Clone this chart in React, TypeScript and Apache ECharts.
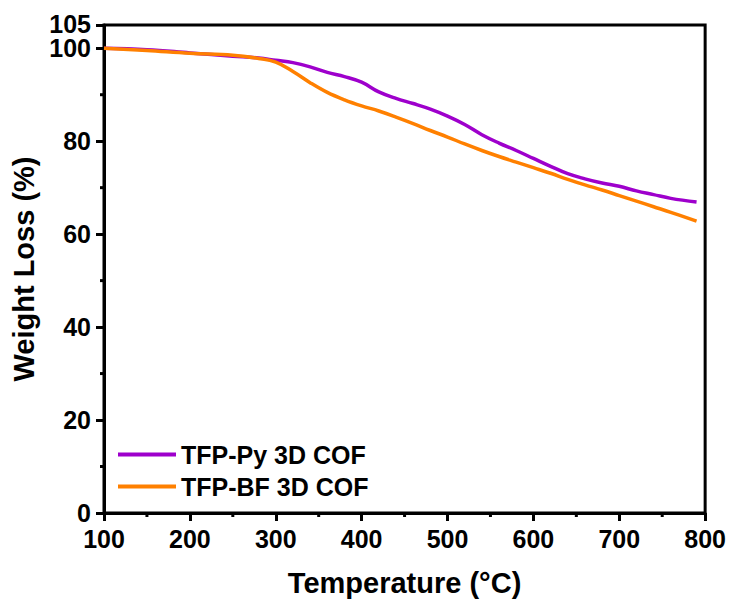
import React, { useEffect, useRef } from "react";
import * as echarts from "echarts";

// Temperature (°C) sample points for each TGA trace
const pyTemps = [100, 150, 200, 250, 280, 300, 320, 340, 360, 380, 400, 420, 440, 460, 480, 500, 520, 540, 560, 580, 600, 620, 640, 660, 680, 700, 720, 740, 760, 790];
const pyWeight = [100, 99.7, 99.0, 98.3, 97.9, 97.4, 96.9, 96.0, 94.8, 93.9, 92.7, 90.6, 89.2, 88.1, 86.9, 85.4, 83.6, 81.4, 79.6, 78.0, 76.3, 74.6, 73.0, 71.9, 71.0, 70.3, 69.3, 68.5, 67.7, 66.9];

const bfTemps = [100, 150, 200, 250, 280, 300, 320, 340, 360, 380, 400, 420, 440, 460, 480, 500, 520, 540, 560, 580, 600, 620, 640, 660, 680, 700, 720, 740, 760, 790];
const bfWeight = [100, 99.5, 98.9, 98.5, 97.8, 97.0, 95.0, 92.6, 90.5, 88.9, 87.6, 86.5, 85.2, 83.8, 82.3, 80.9, 79.4, 78.0, 76.7, 75.5, 74.3, 73.1, 71.8, 70.6, 69.5, 68.3, 67.1, 65.9, 64.7, 62.8];

const seriesNames = ["TFP-Py 3D COF", "TFP-BF 3D COF"];
const seriesColors = ["#9E00CC", "#FF8000"];

const xMinor = [150, 250, 350, 450, 550, 650, 750];
const yLabels = [0, 20, 40, 60, 80, 100];
const yTopLabel = [105];
const yMinor = [10, 30, 50, 70, 90];

const FONT = "Liberation Sans, Arial, sans-serif";
const MINOR_LEN = 4;

export default function App() {
  const ref = useRef<HTMLDivElement>(null);

  useEffect(() => {
    if (!ref.current) return;
    const chart = echarts.init(ref.current, null, { renderer: "svg" });
    const pairs = (xs: number[], ys: number[]) => xs.map((x, i) => [x, ys[i]]);
    const labelStyle = { fontFamily: FONT, fontSize: 25, fontWeight: "bold", color: "#000", lineHeight: 21 };
    const nameStyle = { fontFamily: FONT, fontSize: 29, fontWeight: "bold", color: "#000" };
    const majorTick = { show: true, inside: false, length: 8, lineStyle: { color: "#000", width: 3 } };

    chart.setOption({
      animation: false,
      backgroundColor: "#fff",
      grid: {
        left: 104,
        right: 23,
        top: 25,
        bottom: 91,
        show: true,
        borderColor: "#000",
        borderWidth: 3,
      },
      legend: {
        left: 113,
        top: 437,
        orient: "vertical",
        itemWidth: 58,
        itemHeight: 4,
        itemGap: 7,
        icon: "rect",
        textStyle: { fontFamily: FONT, fontSize: 25, fontWeight: "bold", color: "#000", padding: [0, 0, 0, 0] },
        data: seriesNames,
      },
      xAxis: {
        type: "value",
        min: 100,
        max: 800,
        interval: 100,
        axisLine: { show: true, lineStyle: { color: "#000", width: 3 } },
        axisTick: majorTick,
        axisLabel: { ...labelStyle, margin: 15 },
        splitLine: { show: false },
        name: "Temperature (°C)",
        nameLocation: "middle",
        nameGap: 55,
        nameTextStyle: nameStyle,
      },
      yAxis: {
        type: "value",
        min: 0,
        max: 105,
        interval: 20,
        axisLine: { show: true, lineStyle: { color: "#000", width: 3 } },
        axisTick: majorTick,
        axisLabel: { ...labelStyle, margin: 13, customValues: yLabels },
        splitLine: { show: false },
        name: "Weight Loss (%)",
        nameLocation: "middle",
        nameGap: 59,
        nameTextStyle: nameStyle,
      },
      series: [
        {
          name: seriesNames[0],
          type: "line",
          data: pairs(pyTemps, pyWeight),
          smooth: 0.4,
          showSymbol: false,
          symbol: "none",
          color: seriesColors[0],
          lineStyle: { width: 3.5, color: seriesColors[0] },
          z: 3,
        },
        {
          name: seriesNames[1],
          type: "line",
          data: pairs(bfTemps, bfWeight),
          smooth: 0.4,
          showSymbol: false,
          symbol: "none",
          color: seriesColors[1],
          lineStyle: { width: 3.5, color: seriesColors[1] },
          z: 4,
        },
        {
          // minor ticks on the temperature axis
          type: "custom",
          silent: true,
          clip: false,
          z: 10,
          encode: { x: 0 },
          data: xMinor.map((v) => [v]),
          renderItem: (_p: any, api: any) => {
            const p = api.coord([api.value(0), 0]);
            return {
              type: "line",
              shape: { x1: p[0], y1: p[1], x2: p[0], y2: p[1] + MINOR_LEN },
              style: { stroke: "#000", lineWidth: 3 },
            };
          },
        },
        {
          // minor ticks on the weight axis
          type: "custom",
          silent: true,
          clip: false,
          z: 10,
          encode: { y: 0 },
          data: yMinor.map((v) => [v]),
          renderItem: (_p: any, api: any) => {
            const p = api.coord([100, api.value(0)]);
            return {
              type: "line",
              shape: { x1: p[0], y1: p[1], x2: p[0] - MINOR_LEN, y2: p[1] },
              style: { stroke: "#000", lineWidth: 3 },
            };
          },
        },
        {
          // top-of-axis label
          type: "custom",
          silent: true,
          clip: false,
          z: 10,
          encode: { y: 0 },
          data: yTopLabel.map((v) => [v]),
          renderItem: (_p: any, api: any) => {
            const v = api.value(0);
            const p = api.coord([100, v]);
            return {
              type: "text",
              x: p[0] - 13,
              y: p[1] - 1,
              style: {
                text: String(v),
                align: "right",
                verticalAlign: "middle",
                fontFamily: FONT,
                fontSize: 25,
                fontWeight: "bold",
                lineHeight: 21,
                fill: "#000",
              },
            };
          },
        },
      ],
    });

    return () => chart.dispose();
  }, []);

  return (
    <div
      ref={ref}
      style={{ position: "fixed", left: 0, top: 0, width: 729, height: 604 }}
    />
  );
}
